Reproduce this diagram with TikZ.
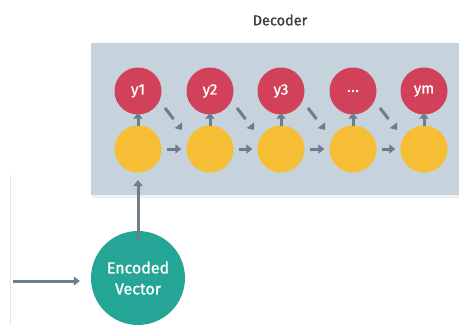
\documentclass[tikz,border=0pt]{standalone}
\usepackage{fontspec}
\setmainfont{Fira Sans}[FakeBold=1.2]
\usetikzlibrary{arrows.meta,calc}
\definecolor{boxc}{HTML}{C6D2DC}
\definecolor{redc}{HTML}{D1425A}
\definecolor{yelc}{HTML}{F5BE34}
\definecolor{tealc}{HTML}{25A596}
\definecolor{arrc}{HTML}{6C7E8C}
\definecolor{faint}{HTML}{E6E9EC}
\definecolor{titc}{HTML}{3A3F44}
\newcommand{\mydots}{.\kern0.5pt.\kern0.5pt.}
\tikzset{
  outc/.style={circle, fill=redc, minimum size=47pt, inner sep=0pt, text=white, font=\fontsize{15}{15}\selectfont},
  hidc/.style={circle, fill=yelc, minimum size=47pt, inner sep=0pt},
  encc/.style={circle, fill=tealc, minimum size=94pt, inner sep=0pt, text=white, align=center, font=\fontsize{16}{21}\selectfont},
  arr/.style={draw=arrc, line width=3pt, -{Triangle[length=6pt, width=9pt]}},
  darr/.style={arr, dash pattern=on 14pt off 20pt},
}
\begin{document}
\begin{tikzpicture}[x=1pt, y=-1pt]
\useasboundingbox (0,0) rectangle (459,325);
\fill[white] (0,0) rectangle (459,325);
\draw[faint, line width=1pt] (10,175) -- (10,325);
\fill[black!6] (92,45) rectangle (461,198);
\fill[boxc] (91,43) rectangle (459,195);
\node[font=\fontsize{14.5}{14.5}\selectfont, text=titc] (title) at (280,20) {Decoder};
\foreach \i/\x/\t in {1/138/y1, 2/210/y2, 3/281/y3, 4/353/\mydots, 5/424/ym} {
  \node[outc] (o\i) at (\x,91) {\t};
  \node[hidc] (h\i) at (\x,149) {};
  \draw[arr] ([yshift=-1pt]h\i.north) -- ([yshift=2pt]o\i.south);
}
\foreach \i/\j in {1/2, 2/3, 3/4, 4/5} {
  \draw[arr, shorten <=5pt, shorten >=5pt] (h\i) -- (h\j);
  \coordinate (s\i) at ($(o\i)+(27,17)$);
  \coordinate (e\i) at ($(o\i)+(44,39)$);
  \draw[darr] (s\i) -- (e\i);
}
\node[encc] (enc) at (138,278) {Encoded\\Vector};
\coordinate (in) at (13,281);
\draw[arr] (in) -- ([xshift=-11pt]enc.west |- in);
\draw[arr] ([yshift=-9pt]enc.north) -- (138,180);
\end{tikzpicture}
\end{document}
